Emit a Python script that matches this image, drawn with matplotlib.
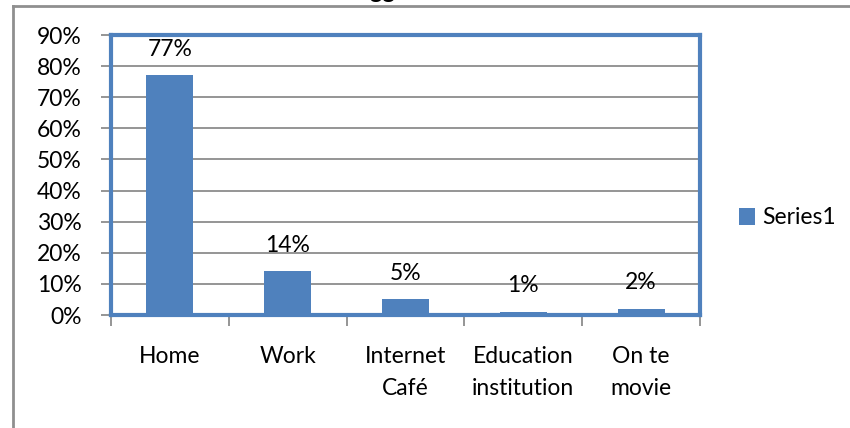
import numpy as np
import matplotlib
matplotlib.use("Agg")
import matplotlib.pyplot as plt
from matplotlib.lines import Line2D
from matplotlib.ticker import FuncFormatter

places = ["Home", "Work", "Internet\nCafé", "Education\ninstitution", "On te\nmovie"]
share = [0.77, 0.14, 0.05, 0.01, 0.02]
share_labels = ["77%", "14%", "5%", "1%", "2%"]
series_name = "Series1"

blue = "#4F81BD"
grid_grey = "#8C8C8C"

plt.rcParams['font.family'] = ['Lato', 'DejaVu Sans']

W, H = 850, 428
fig = plt.figure(figsize=(W / 100, H / 100), dpi=100)

# chart frame (runs off the top/right edge)
fig.add_artist(Line2D([13 / W, 13 / W], [0, 1 - 6 / H], color="#8F8F8F", lw=2))
fig.add_artist(Line2D([13 / W, 1], [1 - 6 / H, 1 - 6 / H], color="#8F8F8F", lw=2))

# title sits above the visible area, only its descenders show
fig.text(0.475, 1 + 1.5 / H, "Lokasi Penggunaan Internet", ha="center", va="baseline",
         fontsize=17, fontweight="bold")

left, right, top, bottom = 111, 700, 35, 315
ax = fig.add_axes([left / W, 1 - bottom / H, (right - left) / W, (bottom - top) / H])

x = np.arange(len(places))
ax.bar(x, share, width=0.4, color=blue, label=series_name, zorder=3)

for xi, v, lab in zip(x, share, share_labels):
    ax.annotate(lab, (xi, v), xytext=(0, 19), textcoords="offset points",
                ha="center", va="center", fontsize=16.5, zorder=4)

ax.set_xlim(-0.5, len(places) - 0.5)
ax.set_ylim(0, 0.9)
ax.set_yticks(np.arange(0, 0.91, 0.1))
ax.yaxis.set_major_formatter(FuncFormatter(lambda v, p: f"{v * 100:.0f}%"))
ax.yaxis.grid(True, color=grid_grey, lw=1.3, zorder=0)

ax.set_xticks(x)
ax.set_xticklabels(places, linespacing=1.7, va="top")
ax.set_xticks(np.arange(-0.5, len(places)), minor=True)
ax.tick_params(axis="x", which="major", length=0, pad=22, labelsize=16.5)
ax.tick_params(axis="x", which="minor", length=8, width=1.3, color=grid_grey, direction="out")
ax.tick_params(axis="y", length=7, width=1.3, color=grid_grey, pad=14, labelsize=16.5)

for s in ax.spines.values():
    s.set_color(blue)
    s.set_linewidth(3)

ax.legend(loc="center left", bbox_to_anchor=(730 / W, 1 - 218 / H),
          bbox_transform=fig.transFigure, frameon=False, fontsize=16.5,
          handlelength=0.7, handleheight=0.7, handletextpad=0.3, borderaxespad=0)

fig.savefig("out.png", dpi=100)
